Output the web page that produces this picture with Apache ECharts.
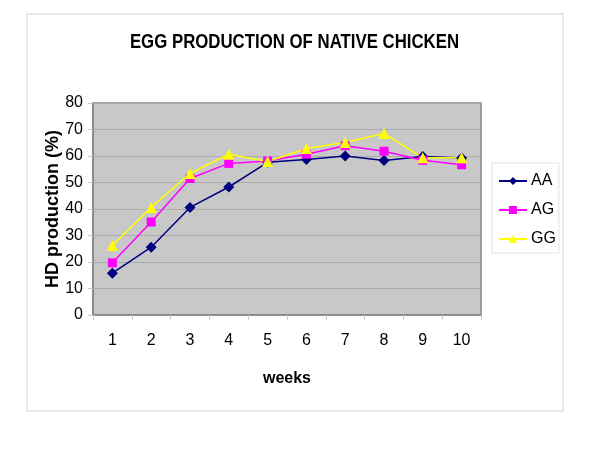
<!DOCTYPE html>
<html>
<head>
<meta charset="utf-8">
<script src="https://cdn.jsdelivr.net/npm/echarts@6/dist/echarts.min.js"></script>
<style>html,body{margin:0;padding:0;background:#fff}#c{width:600px;height:450px}</style>
</head>
<body>
<div id="c"></div>
<script>
const weeks = ['1','2','3','4','5','6','7','8','9','10'];
const AA = [15.8, 25.6, 40.6, 48.3, 57.6, 58.7, 60.0, 58.3, 59.8, 59.2];
const AG = [19.7, 35.1, 51.5, 57.2, 58.1, 60.7, 63.9, 61.8, 58.4, 56.7];
const GG = [26.2, 40.6, 53.4, 60.7, 57.9, 62.8, 65.1, 68.5, 59.3, 59.3];
const seriesNames = ['AA', 'AG', 'GG'];
const titleText = 'EGG PRODUCTION OF NATIVE CHICKEN';
const xName = 'weeks';
const yName = 'HD production (%)';

const FN = '"Liberation Sans", Arial, sans-serif';
const chart = echarts.init(document.getElementById('c'), null, {renderer: 'canvas'});
function mk(name, data, color, symbol, size) {
  return {
    name, type: 'line', data, symbol, symbolSize: size,
    lineStyle: {color, width: 1.5},
    itemStyle: {color},
    animation: false
  };
}
chart.setOption({
  animation: false,
  graphic: [{
    type: 'rect', shape: {x: 27, y: 14, width: 536, height: 397},
    style: {fill: 'none', stroke: '#e2e2e2', lineWidth: 1.5}, z: -10
  }, {
    type: 'text', x: 294.5, y: 42, scaleX: 0.84, originX: 0, originY: 0,
    style: {text: titleText, font: 'bold 20px ' + FN, fill: '#000',
      align: 'center', verticalAlign: 'middle'}
  }],
  legend: {
    orient: 'vertical', left: 492, top: 163,
    itemWidth: 28, itemHeight: 10, itemGap: 13,
    padding: [10, 3, 6, 6],
    borderColor: '#e4e4e4', borderWidth: 1,
    textStyle: {fontFamily: FN, fontSize: 16, color: '#000', padding: [0, 0, 0, -1]},
    data: seriesNames
  },
  grid: {left: 93, right: 119, top: 103, bottom: 135, show: true,
    backgroundColor: '#c8c8c8', borderColor: '#858585', borderWidth: 1.5},
  xAxis: {
    type: 'category', data: weeks, boundaryGap: true,
    name: xName, nameLocation: 'middle', nameGap: 56, nameMoveOverlap: false,
    nameTextStyle: {fontFamily: FN, fontWeight: 'bold', fontSize: 16, color: '#000'},
    axisLine: {lineStyle: {color: '#858585', width: 1.5}},
    axisTick: {show: true, length: 5, lineStyle: {color: '#c8c8c8'}},
    axisLabel: {fontFamily: FN, fontSize: 16, color: '#000', margin: 18},
    splitLine: {show: false}
  },
  yAxis: {
    type: 'value', min: 0, max: 80, interval: 10,
    name: yName, nameLocation: 'middle', nameGap: 31, nameMoveOverlap: false,
    nameTextStyle: {fontFamily: FN, fontWeight: 'bold', fontSize: 18, color: '#000'},
    axisLine: {show: true, lineStyle: {color: '#858585', width: 1.5}},
    axisTick: {show: true, length: 5, lineStyle: {color: '#c8c8c8'}},
    axisLabel: {fontFamily: FN, fontSize: 16, color: '#000', margin: 10},
    splitLine: {lineStyle: {color: '#acacac', width: 1}}
  },
  series: [
    mk('AA', AA, '#000080', 'diamond', 11),
    mk('AG', AG, '#ff00ff', 'rect', 9),
    mk('GG', GG, '#ffff00', 'triangle', 11)
  ]
});
</script>
</body>
</html>
